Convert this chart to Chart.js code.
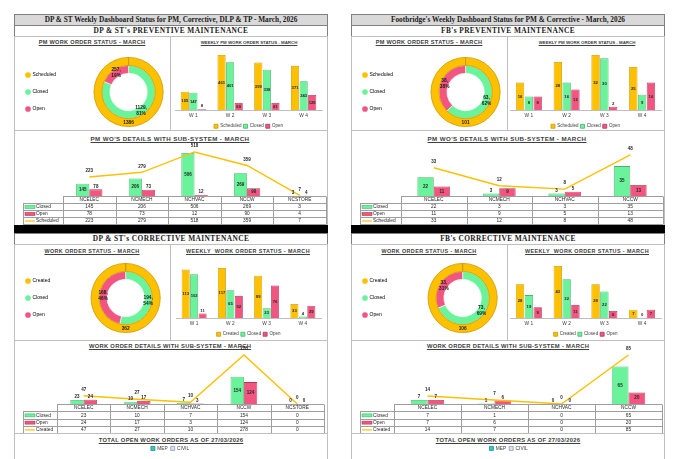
<!DOCTYPE html>
<html>
<head>
<meta charset="utf-8">
<script src="https://cdn.jsdelivr.net/npm/chart.js@4.4.1/dist/chart.umd.min.js"></script>
<style>
html, body { margin: 0; padding: 0; background: #fff; width: 680px; height: 459px; overflow: hidden; }
#page { position: relative; width: 680px; height: 459px; overflow: hidden; font-family: "Liberation Sans", Arial, sans-serif; }
.box { position: absolute; box-sizing: border-box; border: 1px solid #bfbfbf; }
.hdr { position: absolute; box-sizing: border-box; border: 1px solid #7f7f7f; font-family: "Liberation Serif", serif; font-weight: bold; text-align: center; color: #1a1a1a; line-height: 10px; }
.grey { background: #d9d9d9; }
.band { position: absolute; background: #000; }
.ttl { position: absolute; font-weight: bold; text-decoration: underline; color: #404040; white-space: nowrap; transform: translateX(-50%); line-height: 1; }
canvas { position: absolute; }
</style>
</head>
<body>
<div id="page">
  <!-- left panel frame -->
  <div class="hdr grey" style="left:14px;top:14px;width:314px;height:12px;font-size:7.3px;">DP &amp; ST Weekly Dashboard Status for PM, Corrective, DLP &amp; TP - March, 2026</div>
  <div class="hdr" style="left:14px;top:25px;width:314px;height:12px;font-size:7.4px;letter-spacing:0.4px;">DP &amp; ST's PREVENTIVE MAINTENANCE</div>
  <div class="box" style="left:14px;top:36px;width:157px;height:95px;"></div>
  <div class="box" style="left:170px;top:36px;width:158px;height:95px;"></div>
  <div class="box" style="left:14px;top:130px;width:314px;height:96px;"></div>
  <div class="band" style="left:14px;top:225px;width:314px;height:8px;"></div>
  <div class="hdr" style="left:14px;top:233px;width:314px;height:12px;font-size:7.4px;letter-spacing:0.4px;">DP &amp; ST's CORRECTIVE MAINTENANCE</div>
  <div class="box" style="left:14px;top:244px;width:157px;height:97px;"></div>
  <div class="box" style="left:170px;top:244px;width:158px;height:97px;"></div>
  <div class="box" style="left:14px;top:340px;width:314px;height:94px;"></div>
  <div class="box" style="left:14px;top:433px;width:314px;height:60px;"></div>

  <!-- right panel frame -->
  <div class="hdr grey" style="left:351px;top:14px;width:314px;height:12px;font-size:7.3px;">Footbridge's Weekly Dashboard Status for PM &amp; Corrective - March, 2026</div>
  <div class="hdr" style="left:351px;top:25px;width:314px;height:12px;font-size:7.4px;letter-spacing:0.4px;">FB's PREVENTIVE MAINTENANCE</div>
  <div class="box" style="left:351px;top:36px;width:157px;height:95px;"></div>
  <div class="box" style="left:507px;top:36px;width:158px;height:95px;"></div>
  <div class="box" style="left:351px;top:130px;width:314px;height:96px;"></div>
  <div class="band" style="left:351px;top:225px;width:314px;height:8px;"></div>
  <div class="hdr" style="left:351px;top:233px;width:314px;height:12px;font-size:7.4px;letter-spacing:0.4px;">FB's CORRECTIVE MAINTENANCE</div>
  <div class="box" style="left:351px;top:244px;width:157px;height:97px;"></div>
  <div class="box" style="left:507px;top:244px;width:158px;height:97px;"></div>
  <div class="box" style="left:351px;top:340px;width:314px;height:94px;"></div>
  <div class="box" style="left:351px;top:433px;width:314px;height:60px;"></div>

  <!-- chart titles -->
  <div class="ttl" style="left:92px;top:40px;font-size:5.6px;letter-spacing:0.3px;">PM WORK ORDER STATUS - MARCH</div>
  <div class="ttl" style="left:249px;top:41px;font-size:4.4px;">WEEKLY PM WORK ORDER STATUS - MARCH</div>
  <div class="ttl" style="left:170px;top:136px;font-size:6.2px;letter-spacing:0.4px;">PM WO'S DETAILS WITH SUB-SYSTEM - MARCH</div>
  <div class="ttl" style="left:92px;top:249px;font-size:5.4px;letter-spacing:0.4px;">WORK ORDER STATUS - MARCH</div>
  <div class="ttl" style="left:248px;top:249px;font-size:5.4px;letter-spacing:0.4px;">WEEKLY&nbsp; WORK ORDER STATUS - MARCH</div>
  <div class="ttl" style="left:170px;top:344px;font-size:5.8px;letter-spacing:0.3px;">WORK ORDER DETAILS WITH SUB-SYSTEM - MARCH</div>
  <div class="ttl" style="left:171px;top:438px;font-size:5.8px;letter-spacing:0.3px;">TOTAL OPEN WORK ORDERS AS OF 27/03/2026</div>

  <div class="ttl" style="left:429px;top:40px;font-size:5.6px;letter-spacing:0.3px;">PM WORK ORDER STATUS - MARCH</div>
  <div class="ttl" style="left:587px;top:41px;font-size:4.4px;">WEEKLY PM WORK ORDER STATUS - MARCH</div>
  <div class="ttl" style="left:507px;top:136px;font-size:6.2px;letter-spacing:0.4px;">PM WO'S DETAILS WITH SUB-SYSTEM - MARCH</div>
  <div class="ttl" style="left:429px;top:249px;font-size:5.4px;letter-spacing:0.4px;">WORK ORDER STATUS - MARCH</div>
  <div class="ttl" style="left:587px;top:249px;font-size:5.4px;letter-spacing:0.4px;">WEEKLY&nbsp; WORK ORDER STATUS - MARCH</div>
  <div class="ttl" style="left:508px;top:344px;font-size:5.8px;letter-spacing:0.3px;">WORK ORDER DETAILS WITH SUB-SYSTEM - MARCH</div>
  <div class="ttl" style="left:508px;top:438px;font-size:5.8px;letter-spacing:0.3px;">TOTAL OPEN WORK ORDERS AS OF 27/03/2026</div>

  <canvas id="dpPmDonut" width="188" height="94" style="left:14px;top:36px;"></canvas>
  <canvas id="dpPmWeek" width="158" height="94" style="left:170px;top:36px;"></canvas>
  <canvas id="dpPmSub" width="314" height="95" style="left:14px;top:130px;"></canvas>
  <canvas id="dpCmDonut" width="188" height="96" style="left:14px;top:244px;"></canvas>
  <canvas id="dpCmWeek" width="158" height="96" style="left:170px;top:244px;"></canvas>
  <canvas id="dpCmSub" width="314" height="93" style="left:14px;top:340px;"></canvas>
  <canvas id="dpOpen" width="314" height="70" style="left:14px;top:433px;"></canvas>

  <canvas id="fbPmDonut" width="188" height="94" style="left:351px;top:36px;"></canvas>
  <canvas id="fbPmWeek" width="158" height="94" style="left:507px;top:36px;"></canvas>
  <canvas id="fbPmSub" width="314" height="95" style="left:351px;top:130px;"></canvas>
  <canvas id="fbCmDonut" width="188" height="96" style="left:351px;top:244px;"></canvas>
  <canvas id="fbCmWeek" width="158" height="96" style="left:507px;top:244px;"></canvas>
  <canvas id="fbCmSub" width="314" height="93" style="left:351px;top:340px;"></canvas>
  <canvas id="fbOpen" width="314" height="70" style="left:351px;top:433px;"></canvas>
</div>

<script>
// ---- data ----
const weeks = ['W 1', 'W 2', 'W 3', 'W 4'];
const pmNames = ['Scheduled', 'Closed', 'Open'];
const cmNames = ['Created', 'Closed', 'Open'];

// DP & ST preventive
const dpPmTotals = [1386, 1129, 257];          // scheduled, closed, open
const dpPmWeekScheduled = [155, 461, 399, 371];
const dpPmWeekClosed = [147, 401, 338, 243];
const dpPmWeekOpen = [8, 60, 61, 128];
const dpSubsystems = ['NCELEC', 'NCMECH', 'NCHVAC', 'NCCW', 'NCSTORE'];
const dpPmSubClosed = [145, 206, 506, 269, 3];
const dpPmSubOpen = [78, 73, 12, 90, 4];
const dpPmSubScheduled = [223, 279, 518, 359, 7];

// DP & ST corrective
const dpCmTotals = [362, 194, 168];            // created, closed, open
const dpCmWeekCreated = [113, 117, 99, 33];
const dpCmWeekClosed = [102, 65, 23, 4];
const dpCmWeekOpen = [11, 52, 76, 29];
const dpCmSubClosed = [23, 10, 7, 154, 0];
const dpCmSubOpen = [24, 17, 3, 124, 0];
const dpCmSubCreated = [47, 27, 10, 278, 0];

// DP & ST open work orders (chart cut off at the bottom)
const dpOpenCats = ['1', '2', '3', '4', '5', '6', '7', '8', '9'];
const dpOpenMep = [14, null, 11, 12, 9, null, null, null, null];
const dpOpenCivil = [null, 6, null, null, null, 8, 7, 6, 9];

// Footbridge preventive
const fbPmTotals = [101, 63, 38];
const fbPmWeekScheduled = [16, 28, 32, 25];
const fbPmWeekClosed = [8, 16, 30, 9];
const fbPmWeekOpen = [8, 12, 2, 16];
const fbSubsystems = ['NCELEC', 'NCMECH', 'NCHVAC', 'NCCW'];
const fbPmSubClosed = [22, 3, 3, 35];
const fbPmSubOpen = [11, 9, 5, 13];
const fbPmSubScheduled = [33, 12, 8, 48];

// Footbridge corrective
const fbCmTotals = [106, 73, 33];
const fbCmWeekCreated = [28, 43, 28, 7];
const fbCmWeekClosed = [19, 32, 22, 0];
const fbCmWeekOpen = [9, 11, 6, 7];
const fbCmSubClosed = [7, 1, 0, 65];
const fbCmSubOpen = [7, 6, 0, 20];
const fbCmSubCreated = [14, 7, 0, 85];

// Footbridge open work orders
const fbOpenCats = ['1', '2', '3', '4', '5', '6', '7'];
const fbOpenMep = [null, 10, 8, 9, 7, null, null];
const fbOpenCivil = [6, null, null, null, null, 5, 6];

// ---- styling ----
const ORANGE = '#FFC000', ORANGE_EDGE = '#C99A00';
const GREEN = '#6AF39A', GREEN_EDGE = '#4DAF72';
const PINK = '#F2557F', PINK_EDGE = '#A93A59';
const TEAL = '#33CCCC', TEAL_EDGE = '#1F8C8C';
const LIGHT = '#DCE3F0', LIGHT_EDGE = '#8C9BB3';
const FONT = '"Liberation Sans", Arial, sans-serif';

Chart.defaults.font.family = FONT;
Chart.defaults.color = '#404040';
Chart.defaults.animation = false;
Chart.defaults.responsive = false;
Chart.defaults.plugins.tooltip.enabled = false;

// value labels on bars / line points
const valueLabels = {
  id: 'valueLabels',
  afterDatasetsDraw(chart, args, opts) {
    const ctx = chart.ctx;
    ctx.save();
    ctx.font = 'bold ' + (opts.size || 4.5) + 'px ' + FONT;
    ctx.fillStyle = '#262626';
    ctx.textAlign = 'center';
    ctx.textBaseline = 'middle';
    chart.data.datasets.forEach((ds, di) => {
      const meta = chart.getDatasetMeta(di);
      meta.data.forEach((el, i) => {
        const v = ds.data[i];
        if (v == null) return;
        let y;
        if (meta.type === 'line') {
          y = el.y - 6;
        } else {
          const h = el.base - el.y;
          y = h > 7 ? (el.y + el.base) / 2 : el.y - 3;
        }
        ctx.fillText(String(v), el.x, y);
      });
    });
    ctx.restore();
  }
};

// labels on the doughnut rings
const ringLabels = {
  id: 'ringLabels',
  afterDatasetsDraw(chart) {
    const ctx = chart.ctx;
    ctx.save();
    ctx.font = 'bold 4.8px ' + FONT;
    ctx.fillStyle = '#1a1a1a';
    ctx.textAlign = 'center';
    ctx.textBaseline = 'middle';
    chart.data.datasets.forEach((ds, di) => {
      const meta = chart.getDatasetMeta(di);
      const sum = ds.data.reduce((a, b) => a + b, 0);
      meta.data.forEach((arc, i) => {
        const p = arc.tooltipPosition();
        if (di === 0) {
          ctx.fillText(String(ds.data[i]), p.x, p.y);
        } else {
          const pct = Math.round(ds.data[i] / sum * 100) + '%';
          ctx.fillText(ds.data[i] + ',', p.x, p.y - 3);
          ctx.fillText(pct, p.x, p.y + 3);
        }
      });
    });
    ctx.restore();
  }
};

// Excel style data table under the sub-system charts
const dataTable = {
  id: 'dataTable',
  afterDraw(chart, args, opts) {
    const ctx = chart.ctx, a = chart.chartArea, x = chart.scales.x;
    const n = chart.data.labels.length;
    const w = (a.right - a.left) / n;
    const h = opts.rowHeight;
    const top = a.bottom;
    const rows = opts.rows;
    const bottom = top + h * (rows.length + 1);
    const r = v => Math.round(v) + 0.5;
    ctx.save();
    ctx.strokeStyle = '#9e9e9e';
    ctx.lineWidth = 1;
    ctx.beginPath();
    ctx.moveTo(a.left, r(top)); ctx.lineTo(a.right, r(top));
    for (let k = 1; k <= rows.length + 1; k++) {
      ctx.moveTo(opts.keyLeft, r(top + k * h)); ctx.lineTo(a.right, r(top + k * h));
    }
    for (let i = 0; i <= n; i++) {
      const xx = r(a.left + i * w);
      ctx.moveTo(xx, r(top)); ctx.lineTo(xx, r(bottom));
    }
    ctx.moveTo(r(opts.keyLeft), r(top + h)); ctx.lineTo(r(opts.keyLeft), r(bottom));
    ctx.stroke();

    ctx.font = '4.8px ' + FONT;
    ctx.fillStyle = '#262626';
    ctx.textBaseline = 'middle';
    ctx.textAlign = 'center';
    chart.data.labels.forEach((lab, i) => ctx.fillText(lab, x.getPixelForValue(i), top + h / 2 + 0.5));
    rows.forEach((row, k) => {
      const cy = top + (k + 1.5) * h + 0.5;
      if (row.kind === 'line') {
        ctx.strokeStyle = row.color; ctx.lineWidth = 1.2;
        ctx.beginPath(); ctx.moveTo(opts.keyLeft + 2, cy); ctx.lineTo(opts.keyLeft + 12, cy); ctx.stroke();
      } else {
        ctx.fillStyle = row.color;
        ctx.fillRect(opts.keyLeft + 2, cy - 1.5, 10, 3);
        ctx.strokeStyle = row.edge; ctx.lineWidth = 0.6;
        ctx.strokeRect(opts.keyLeft + 2, cy - 1.5, 10, 3);
      }
      ctx.fillStyle = '#262626';
      ctx.textAlign = 'left';
      ctx.fillText(row.name, opts.keyLeft + 13, cy);
      ctx.textAlign = 'center';
      row.data.forEach((v, i) => ctx.fillText(String(v), x.getPixelForValue(i), cy));
    });
    ctx.restore();
  }
};

function donut(id, totals, names, pad) {
  const colors = [ORANGE, GREEN, PINK];
  return new Chart(document.getElementById(id), {
    type: 'doughnut',
    data: {
      labels: names,
      datasets: [
        { data: [totals[0]], backgroundColor: [ORANGE], borderColor: ORANGE_EDGE, borderWidth: 0.8 },
        { data: [totals[1], totals[2]], backgroundColor: [GREEN, PINK], borderColor: '#ffffff', borderWidth: 0.6 }
      ]
    },
    options: {
      cutout: '54%',
      layout: { padding: pad },
      plugins: {
        legend: {
          position: 'left',
          labels: {
            usePointStyle: true, boxWidth: 4, boxHeight: 4, padding: 12,
            font: { size: 5 }, color: '#404040',
            generateLabels: () => names.map((n, i) => ({
              text: n, fillStyle: colors[i], strokeStyle: colors[i], lineWidth: 0,
              pointStyle: 'circle', hidden: false, index: i
            }))
          }
        }
      }
    },
    plugins: [ringLabels]
  });
}

function weekly(id, names, a, b, c, ymax, pad) {
  return new Chart(document.getElementById(id), {
    type: 'bar',
    data: {
      labels: weeks,
      datasets: [
        { label: names[0], data: a, backgroundColor: ORANGE, borderColor: ORANGE_EDGE, borderWidth: 0.8 },
        { label: names[1], data: b, backgroundColor: GREEN, borderColor: GREEN_EDGE, borderWidth: 0.8 },
        { label: names[2], data: c, backgroundColor: PINK, borderColor: PINK_EDGE, borderWidth: 0.8 }
      ]
    },
    options: {
      layout: { padding: pad },
      datasets: { bar: { categoryPercentage: 0.7, barPercentage: 0.95 } },
      scales: {
        x: { grid: { display: false, drawTicks: false }, border: { color: '#bfbfbf' },
             ticks: { font: { size: 4.8 }, color: '#404040', padding: 3 } },
        y: { display: false, min: 0, max: ymax }
      },
      plugins: {
        legend: { position: 'bottom', maxHeight: 8,
                  labels: { boxWidth: 4, boxHeight: 4, padding: 2, font: { size: 4.5 }, color: '#404040' } },
        valueLabels: { size: 4.2 }
      }
    },
    plugins: [valueLabels]
  });
}

function subsystem(id, cats, closed, open, line, lineName, ymax, pad, rowHeight) {
  return new Chart(document.getElementById(id), {
    type: 'bar',
    data: {
      labels: cats,
      datasets: [
        { type: 'line', label: lineName, data: line, borderColor: ORANGE, borderWidth: 1.4, pointRadius: 0, tension: 0, order: 0 },
        { label: 'Closed', data: closed, backgroundColor: GREEN, borderColor: GREEN_EDGE, borderWidth: 0.8, order: 1 },
        { label: 'Open', data: open, backgroundColor: PINK, borderColor: PINK_EDGE, borderWidth: 0.8, order: 1 }
      ]
    },
    options: {
      layout: { padding: pad },
      datasets: { bar: { categoryPercentage: 0.5, barPercentage: 1 } },
      scales: { x: { display: false }, y: { display: false, min: 0, max: ymax } },
      plugins: {
        legend: { display: false },
        valueLabels: { size: 4.5 },
        dataTable: {
          rowHeight: rowHeight, keyLeft: 9,
          rows: [
            { name: 'Closed', data: closed, color: GREEN, edge: GREEN_EDGE },
            { name: 'Open', data: open, color: PINK, edge: PINK_EDGE },
            { name: lineName, data: line, color: ORANGE, kind: 'line' }
          ]
        }
      }
    },
    plugins: [valueLabels, dataTable]
  });
}

function openOrders(id, cats, mep, civil, pad) {
  return new Chart(document.getElementById(id), {
    type: 'bar',
    data: {
      labels: cats,
      datasets: [
        { label: 'MEP', data: mep, backgroundColor: TEAL, borderColor: TEAL_EDGE, borderWidth: 0.8 },
        { label: 'CIVIL', data: civil, backgroundColor: LIGHT, borderColor: LIGHT_EDGE, borderWidth: 0.8 }
      ]
    },
    options: {
      layout: { padding: pad },
      datasets: { bar: { grouped: false, categoryPercentage: 0.55, barPercentage: 1 } },
      scales: {
        x: { grid: { offset: true, color: '#bfbfbf', drawTicks: false }, border: { display: false }, ticks: { display: false } },
        y: { display: false, min: 0, max: 4 }
      },
      plugins: {
        legend: { position: 'top', labels: { boxWidth: 4, boxHeight: 4, padding: 3, font: { size: 4.8 }, color: '#404040' } }
      }
    }
  });
}

// ---- DP & ST ----
donut('dpPmDonut', dpPmTotals, pmNames, { left: 0, right: 11, top: 21, bottom: 3 });
weekly('dpPmWeek', pmNames, dpPmWeekScheduled, dpPmWeekClosed, dpPmWeekOpen, 520, { left: 5, right: 6, top: 12, bottom: 0 });
subsystem('dpPmSub', dpSubsystems, dpPmSubClosed, dpPmSubOpen, dpPmSubScheduled, 'Scheduled', 600, { left: 49, right: 2, top: 15, bottom: 29 }, 7);
donut('dpCmDonut', dpCmTotals, cmNames, { left: 0, right: 11, top: 19, bottom: 7 });
weekly('dpCmWeek', cmNames, dpCmWeekCreated, dpCmWeekClosed, dpCmWeekOpen, 140, { left: 6, right: 7, top: 14, bottom: 2 });
subsystem('dpCmSub', dpSubsystems, dpCmSubClosed, dpCmSubOpen, dpCmSubCreated, 'Created', 300, { left: 43, right: 4, top: 11, bottom: 29 }, 7.25);
openOrders('dpOpen', dpOpenCats, dpOpenMep, dpOpenCivil, { left: 3, right: 5, top: 10, bottom: 0 });

// ---- Footbridge ----
donut('fbPmDonut', fbPmTotals, pmNames, { left: 0, right: 11, top: 21, bottom: 3 });
weekly('fbPmWeek', pmNames, fbPmWeekScheduled, fbPmWeekClosed, fbPmWeekOpen, 36, { left: 3, right: 4, top: 12, bottom: 0 });
subsystem('fbPmSub', fbSubsystems, fbPmSubClosed, fbPmSubOpen, fbPmSubScheduled, 'Scheduled', 55, { left: 50, right: 2, top: 19, bottom: 29 }, 7);
donut('fbCmDonut', fbCmTotals, cmNames, { left: 0, right: 11, top: 19, bottom: 7 });
weekly('fbCmWeek', cmNames, fbCmWeekCreated, fbCmWeekClosed, fbCmWeekOpen, 49.5, { left: 3, right: 4, top: 14, bottom: 2 });
subsystem('fbCmSub', fbSubsystems, fbCmSubClosed, fbCmSubOpen, fbCmSubCreated, 'Created', 92, { left: 43, right: 3, top: 11, bottom: 29 }, 7.25);
openOrders('fbOpen', fbOpenCats, fbOpenMep, fbOpenCivil, { left: 4, right: 3, top: 10, bottom: 0 });
</script>
</body>
</html>
